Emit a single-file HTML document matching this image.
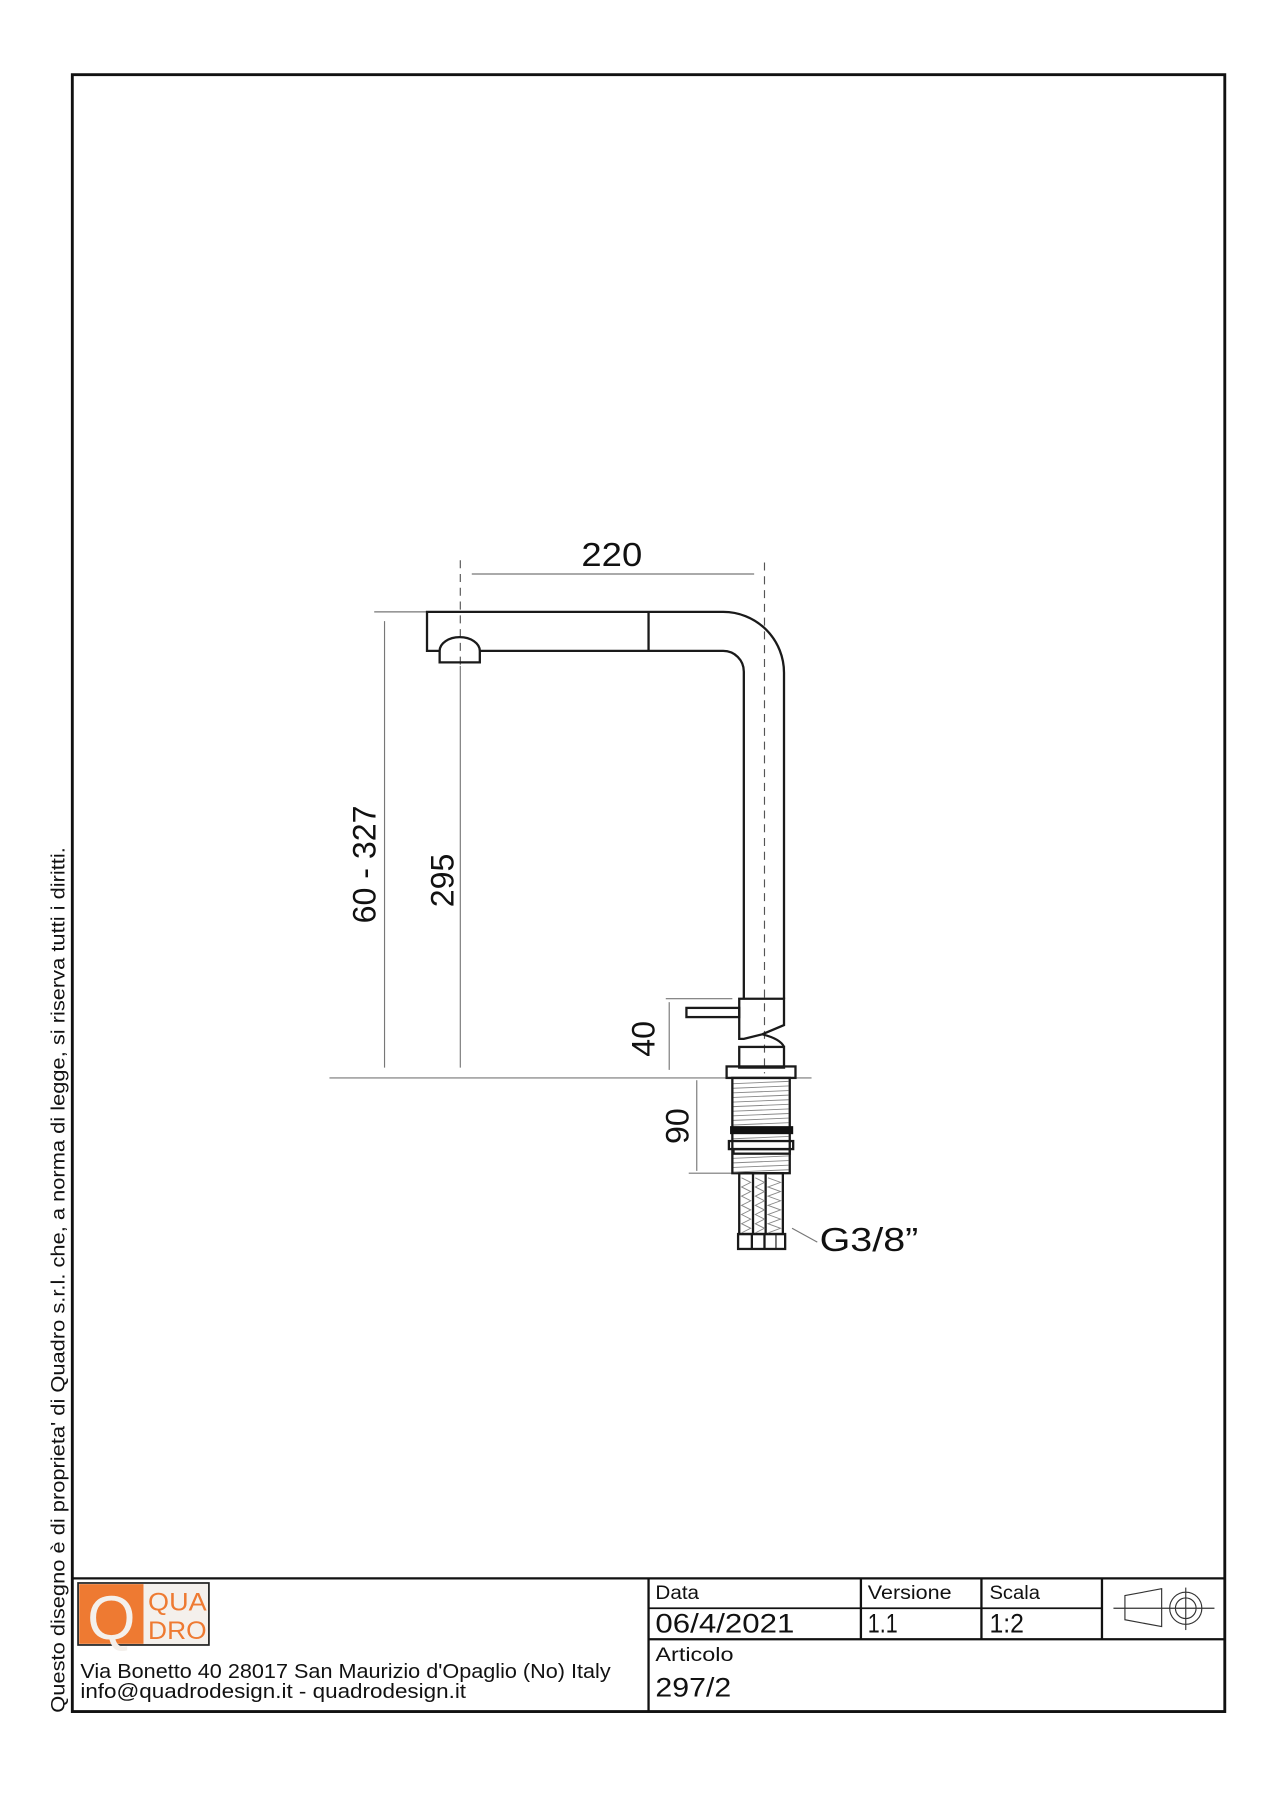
<!DOCTYPE html>
<html><head><meta charset="utf-8"><style>
html,body{margin:0;padding:0;background:#fff;}
svg{display:block;}
text{font-family:"Liberation Sans",sans-serif;fill:#111;}
</style></head><body>
<svg width="1273" height="1800" viewBox="0 0 1109 1568" xmlns="http://www.w3.org/2000/svg">
<rect x="0" y="0" width="1109" height="1568" fill="#fff"/>
<rect x="63" y="65" width="1004" height="1426" fill="none" stroke="#111" stroke-width="2.5"/>
<g stroke="#111" stroke-width="2" fill="none">
<line x1="63" y1="1375" x2="1067" y2="1375"/>
<line x1="565" y1="1375" x2="565" y2="1491"/>
<line x1="565" y1="1428" x2="1067" y2="1428"/>
<line x1="750" y1="1375" x2="750" y2="1428"/>
<line x1="855" y1="1375" x2="855" y2="1428"/>
<line x1="960" y1="1375" x2="960" y2="1428"/>
<line x1="565" y1="1401" x2="960" y2="1401" stroke-width="1.5"/>
</g>
<g stroke="#333" stroke-width="1" fill="none">
<polygon points="980,1390 1012,1384 1012,1417 980,1411"/>
<circle cx="1033" cy="1401" r="14"/>
<circle cx="1033" cy="1401" r="9"/>
<line x1="970" y1="1401" x2="1058" y2="1401"/>
<line x1="1033" y1="1383" x2="1033" y2="1420"/>
</g>
<rect x="68" y="1379" width="114" height="54" fill="#f4f0ec" stroke="#222" stroke-width="1.5"/>
<rect x="69" y="1380" width="56" height="52" fill="#ee7a32"/>
<text x="97" y="1428" font-size="54" text-anchor="middle" style="fill:#f4f0ec;font-family:'Liberation Sans',sans-serif">Q</text>
<text x="129" y="1403" font-size="22" style="fill:#ee7a32" textLength="51" lengthAdjust="spacingAndGlyphs">QUA</text>
<text x="129" y="1428" font-size="22" style="fill:#ee7a32" textLength="51" lengthAdjust="spacingAndGlyphs">DRO</text>
<text x="571" y="1393" font-size="17" textLength="38" lengthAdjust="spacingAndGlyphs">Data</text>
<text x="571" y="1422" font-size="23" textLength="121" lengthAdjust="spacingAndGlyphs">06/4/2021</text>
<text x="756" y="1393" font-size="17" textLength="73" lengthAdjust="spacingAndGlyphs">Versione</text>
<text x="756" y="1422" font-size="23" textLength="26" lengthAdjust="spacingAndGlyphs">1.1</text>
<text x="862" y="1393" font-size="17" textLength="44" lengthAdjust="spacingAndGlyphs">Scala</text>
<text x="862" y="1422" font-size="23" textLength="30" lengthAdjust="spacingAndGlyphs">1:2</text>
<text x="571" y="1447" font-size="17" textLength="68" lengthAdjust="spacingAndGlyphs">Articolo</text>
<text x="571" y="1478" font-size="23" textLength="66" lengthAdjust="spacingAndGlyphs">297/2</text>
<text x="70" y="1462" font-size="18" textLength="462" lengthAdjust="spacingAndGlyphs">Via Bonetto 40  28017 San Maurizio d'Opaglio (No) Italy</text>
<text x="70" y="1479" font-size="18" textLength="336" lengthAdjust="spacingAndGlyphs">info@quadrodesign.it  -  quadrodesign.it</text>
<text transform="translate(56,1492) rotate(-90)" font-size="16.5" textLength="754" lengthAdjust="spacingAndGlyphs">Questo disegno è di proprieta' di Quadro s.r.l. che, a norma di legge, si riserva tutti i diritti.</text>

<g stroke="#777" stroke-width="1" fill="none">
<line x1="411" y1="500" x2="657" y2="500"/>
<line x1="326" y1="533" x2="372" y2="533"/>
<line x1="335" y1="541" x2="335" y2="930"/>
<line x1="401" y1="580" x2="401" y2="930"/>
<line x1="287" y1="939" x2="707" y2="939"/>
<line x1="580" y1="870" x2="638" y2="870"/>
<line x1="583" y1="873" x2="583" y2="932"/>
<line x1="607" y1="941" x2="607" y2="1020"/>
<line x1="600" y1="1022" x2="638" y2="1022"/>
<line x1="690" y1="1070" x2="712" y2="1082"/>
</g>
<g stroke="#555" stroke-width="1" stroke-dasharray="7,5" fill="none">
<line x1="401" y1="488" x2="401" y2="580"/>
<line x1="666" y1="490" x2="666" y2="935"/>
</g>
<g stroke="#1a1a1a" stroke-width="2" fill="none">
<path d="M383,567 L372,567 L372,533 L630,533 A53,53 0 0 1 683,586 L683,870"/>
<path d="M418,567 L630,567 A18,18 0 0 1 648,585 L648,870"/>
<line x1="565" y1="533" x2="565" y2="567"/>
<path d="M383,577 L383,567 A17.5,12 0 0 1 418,567 L418,577 Z"/>
<path d="M644,870 L683,870 L683,893 L664,901 L648,905 L644,905 Z"/>
<rect x="598" y="878" width="46" height="8"/>
<path d="M664,901 Q680,905 683,912"/>
<rect x="644" y="912" width="39" height="18"/>
<rect x="633" y="929" width="60" height="10"/>
<rect x="638" y="939" width="50" height="83"/>
<rect x="635" y="994" width="56" height="7"/>
<rect x="639" y="1001" width="49" height="4"/>
<rect x="644" y="1022" width="38" height="53"/>
<line x1="656" y1="1022" x2="656" y2="1075"/>
<line x1="667" y1="1022" x2="667" y2="1075"/>
<rect x="643" y="1075" width="41" height="13"/>
<line x1="655" y1="1075" x2="655" y2="1088"/>
<line x1="666" y1="1075" x2="666" y2="1088"/>
<line x1="676" y1="1075" x2="676" y2="1088" stroke-width="1"/>
</g>
<rect x="636" y="981" width="55" height="7" fill="#111"/>
<g stroke="#888" stroke-width="0.8">
<line x1="639" y1="944" x2="687" y2="942"/><line x1="639" y1="948" x2="687" y2="946"/>
<line x1="639" y1="952" x2="687" y2="950"/><line x1="639" y1="956" x2="687" y2="954"/>
<line x1="639" y1="960" x2="687" y2="958"/><line x1="639" y1="964" x2="687" y2="962"/>
<line x1="639" y1="968" x2="687" y2="966"/><line x1="639" y1="972" x2="687" y2="970"/>
<line x1="639" y1="976" x2="687" y2="974"/><line x1="639" y1="980" x2="687" y2="978"/>
<line x1="639" y1="992" x2="687" y2="990"/>
<line x1="639" y1="1009" x2="687" y2="1007"/><line x1="639" y1="1013" x2="687" y2="1011"/>
<line x1="639" y1="1017" x2="687" y2="1015"/><line x1="639" y1="1021" x2="687" y2="1019"/>
</g>
<g stroke="#888" stroke-width="0.8" fill="none">
<path d="M646,1026 l8,4 l-8,4 l8,4 l-8,4 l8,4 l-8,4 l8,4 l-8,4 l8,4 l-8,4 l8,4 l-8,4"/>
<path d="M658,1026 l8,4 l-8,4 l8,4 l-8,4 l8,4 l-8,4 l8,4 l-8,4 l8,4 l-8,4 l8,4 l-8,4"/>
<path d="M669,1026 l11,4 l-11,4 l11,4 l-11,4 l11,4 l-11,4 l11,4 l-11,4 l11,4 l-11,4 l11,4 l-11,4"/>
</g>
<text x="533" y="493" font-size="29" text-anchor="middle" textLength="53" lengthAdjust="spacingAndGlyphs">220</text>
<text transform="translate(327,753) rotate(-90)" font-size="28" text-anchor="middle">60 - 327</text>
<text transform="translate(395,767) rotate(-90)" font-size="28" text-anchor="middle">295</text>
<text transform="translate(570,905) rotate(-90)" font-size="28" text-anchor="middle">40</text>
<text transform="translate(600,981) rotate(-90)" font-size="28" text-anchor="middle">90</text>
<text x="714" y="1090" font-size="29" textLength="86" lengthAdjust="spacingAndGlyphs">G3/8”</text>
</svg>
</body></html>
